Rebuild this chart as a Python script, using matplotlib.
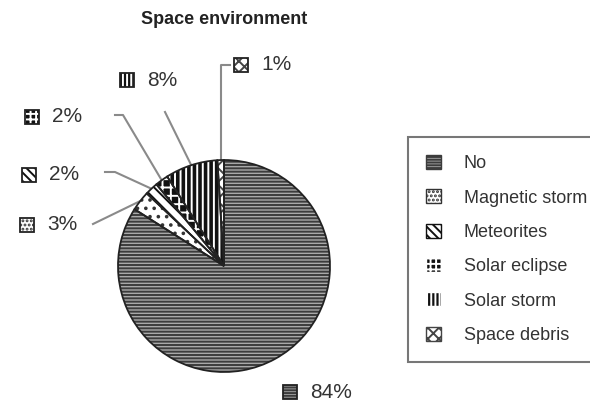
import numpy as np
import matplotlib
matplotlib.use("Agg")
import matplotlib.pyplot as plt
from matplotlib.patches import Rectangle

plt.rcParams['font.family'] = ['Liberation Sans', 'DejaVu Sans']
plt.rcParams['hatch.linewidth'] = 1.4

# data
categories = ["No", "Magnetic storm", "Meteorites", "Solar eclipse", "Solar storm", "Space debris"]
shares = [84, 3, 2, 2, 8, 1]
pct_labels = ["84%", "3%", "2%", "2%", "8%", "1%"]

# look of each slice: face, hatch colour, hatch (pie) and denser hatch for the small icons
faces = ["#a9a9a9", "white", "white", "#111111", "#111111", "white"]
hcols = ["#3c3c3c", "#333333", "#111111", "white", "white", "#444444"]
hatches = ["-----", "..", "\\\\\\", "++", "|||", "xx"]
icon_hatches = ["------", "....", "\\\\\\\\", "+++", "||||", "xxx"]

W, H = 590, 404
fig = plt.figure(figsize=(W / 100, H / 100), dpi=100)
ax = fig.add_axes([0, 0, 1, 1])
ax.set_xlim(0, W); ax.set_ylim(0, H); ax.axis("off")

cx, cy, r = 224, H - 266, 106
wedges, _ = ax.pie(shares, startangle=90, counterclock=False, center=(cx, cy), radius=r,
                   frame=False, wedgeprops=dict(linewidth=0))
for w, f, hc, ht in zip(wedges, faces, hcols, hatches):
    w.set_facecolor(f); w.set_edgecolor(hc); w.set_hatch(ht)
ax.pie(shares, startangle=90, counterclock=False, center=(cx, cy), radius=r, frame=False,
       wedgeprops=dict(fill=False, edgecolor="#222222", linewidth=1.3))
ax.set_xlim(0, W); ax.set_ylim(0, H); ax.set_aspect("auto")

ax.text(cx, H - 20, "Space environment", ha="center", va="center", fontsize=13,
        fontweight="bold", color="#222222")

# label layout (pixel coords, y from top): icon left, label y, leader path
layout = {
    "No": (283, 392, None),
    "Magnetic storm": (20, 225, [(93, 224)]),
    "Meteorites": (22, 175, [(115, 172), (105, 172)]),
    "Solar eclipse": (25, 117, [(123, 115), (115, 115)]),
    "Solar storm": (120, 80, [(165, 112)]),
    "Space debris": (234, 65, [(221, 65), (230, 65)]),
}

angles = 90 - (np.cumsum(shares) - np.array(shares) / 2) / 100 * 360
for i, cat in enumerate(categories):
    ix, ly, path = layout[cat]
    s = 14
    ax.add_patch(Rectangle((ix, H - ly - s / 2), s, s, facecolor=faces[i], edgecolor=hcols[i],
                           hatch=icon_hatches[i], linewidth=0))
    ax.add_patch(Rectangle((ix, H - ly - s / 2), s, s, fill=False, edgecolor="#222222", linewidth=1.3))
    ax.text(ix + s + 13, H - ly, pct_labels[i], ha="left", va="center", fontsize=15, color="#333333")
    if path:
        a = np.deg2rad(angles[i])
        sx, sy = cx + r * np.cos(a), cy + r * np.sin(a)
        if cat == "Space debris":
            sx = 221
        xs = [sx] + [p[0] for p in path]
        ys = [sy] + [H - p[1] for p in path]
        ax.plot(xs, ys, color="#8a8a8a", linewidth=1.5, zorder=0.5)

leg = ax.legend(wedges, categories, loc="upper left", bbox_to_anchor=(408 / W, (H - 137) / H),
                fontsize=13, frameon=True, fancybox=False, borderpad=1.0, labelspacing=0.95,
                handlelength=0.8, handleheight=0.8, handletextpad=1.3, borderaxespad=0)
leg.get_frame().set_edgecolor("#555555")
leg.get_frame().set_linewidth(1.5)
for t in leg.get_texts():
    t.set_color("#333333")
for h, ht in zip(leg.legend_handles, icon_hatches):
    h.set_hatch(ht)
    h.set_linewidth(1.0)

fig.savefig("out.png", dpi=100)
